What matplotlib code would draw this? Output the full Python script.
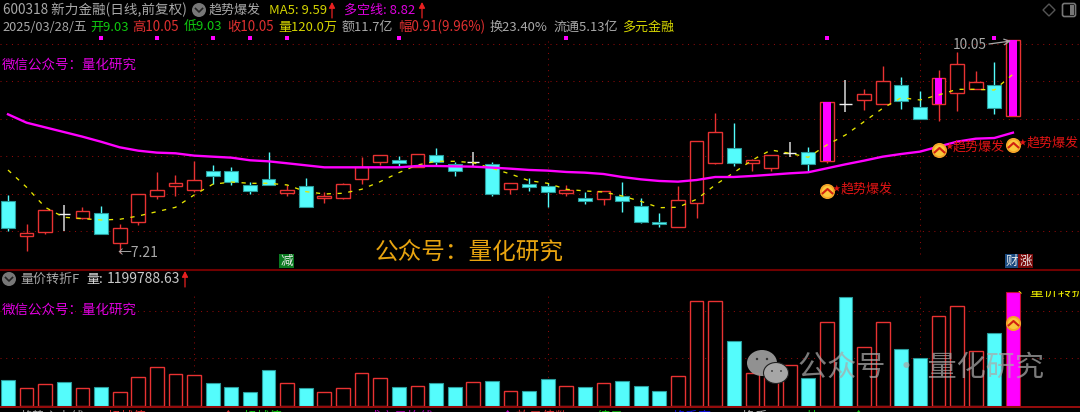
import matplotlib
matplotlib.use('Agg')
import matplotlib.pyplot as plt
from matplotlib.patches import Ellipse, Rectangle, Polygon, FancyBboxPatch
from matplotlib.path import Path
from matplotlib.transforms import Bbox

plt.rcParams['font.family'] = ['Noto Sans CJK SC', 'DejaVu Sans']

# 日K数据
opens = [7.905, 7.438, 7.491, 7.74, 7.674, 7.74, 7.345, 7.625, 7.967, 8.1, 8.051, 8.305, 8.305, 8.109, 8.198,
         8.011, 8.096, 7.936, 7.936, 8.189, 8.425, 8.447, 8.358, 8.509, 8.389, 8.41, 8.389, 8.056, 8.127, 8.096,
         8.002, 7.936, 7.923, 7.967, 7.829, 7.62, 7.554, 7.869, 8.411, 8.602, 8.403, 8.336, 8.53, 8.549, 8.438,
         9.21, 9.242, 9.193, 9.442, 9.149, 9.193, 9.344, 9.398, 9.442, 9.03]
closes = [7.536, 7.473, 7.78, 7.73, 7.767, 7.46, 7.536, 7.989, 8.047, 8.136, 8.18, 8.234, 8.149, 8.038, 8.118,
          8.047, 7.816, 7.967, 8.122, 8.35, 8.509, 8.411, 8.523, 8.425, 8.305, 8.42, 7.994, 8.136, 8.083, 8.025,
          8.047, 7.905, 8.034, 7.905, 7.625, 7.594, 7.918, 8.696, 8.816, 8.411, 8.447, 8.509, 8.54, 8.394, 9.224,
          9.2, 9.322, 9.496, 9.238, 8.993, 9.544, 9.722, 9.487, 9.144, 10.05]
highs = [7.98, 7.594, 7.78, 7.847, 7.816, 7.834, 7.594, 7.989, 8.287, 8.243, 8.438, 8.376, 8.349, 8.153, 8.554,
         8.114, 8.202, 8.02, 8.145, 8.483, 8.509, 8.5, 8.523, 8.602, 8.425, 8.553, 8.42, 8.136, 8.202, 8.136,
         8.114, 8.025, 8.034, 8.158, 7.936, 7.736, 8.1, 8.696, 9.069, 8.936, 8.456, 8.509, 8.687, 8.616, 9.224,
         9.513, 9.398, 9.7, 9.549, 9.371, 9.647, 9.891, 9.638, 9.753, 10.05]
lows = [7.505, 7.238, 7.46, 7.505, 7.656, 7.46, 7.21, 7.58, 7.931, 7.967, 8.025, 8.127, 8.114, 7.994, 8.109,
        7.967, 7.816, 7.878, 7.927, 8.127, 8.38, 8.367, 8.349, 8.38, 8.234, 8.358, 7.967, 8.0, 8.038, 7.816,
        7.967, 7.86, 7.847, 7.758, 7.611, 7.549, 7.554, 7.669, 8.4, 8.367, 8.305, 8.305, 8.483, 8.305, 8.411,
        9.091, 9.113, 9.193, 9.127, 8.993, 8.971, 9.1, 9.398, 9.06, 9.03]
ma5 = [8.313, 8.083, 7.816, 7.683, 7.665, 7.647, 7.656, 7.70, 7.758, 7.816, 7.98, 8.123, 8.153, 8.136, 8.136,
       8.114, 8.025, 7.994, 8.003, 8.056, 8.158, 8.278, 8.38, 8.429, 8.429, 8.411, 8.336, 8.26, 8.171, 8.136,
       8.056, 8.034, 8.02, 7.967, 7.896, 7.811, 7.816, 7.923, 8.114, 8.278, 8.447, 8.58, 8.536, 8.483, 8.647,
       8.78, 8.958, 9.136, 9.278, 9.247, 9.313, 9.389, 9.389, 9.38, 9.59]
duokong = [9.056, 8.944, 8.882, 8.82, 8.758, 8.69, 8.616, 8.571, 8.545, 8.536, 8.505, 8.491, 8.478, 8.443, 8.429,
           8.403, 8.376, 8.349, 8.349, 8.349, 8.349, 8.349, 8.367, 8.367, 8.362, 8.358, 8.345, 8.331, 8.314, 8.305,
           8.287, 8.278, 8.26, 8.22, 8.189, 8.167, 8.158, 8.18, 8.22, 8.22, 8.234, 8.251, 8.269, 8.283, 8.336,
           8.389, 8.438, 8.491, 8.527, 8.558, 8.625, 8.691, 8.731, 8.74, 8.811]
volume = [273, 185, 234, 252, 185, 203, 150, 301, 406, 336, 325, 238, 203, 143, 374, 245, 185, 150, 185, 350,
          290, 199, 206, 238, 199, 255, 259, 161, 154, 280, 206, 199, 245, 259, 210, 154, 311, 1106, 1106, 679,
          346, 301, 430, 290, 885, 1141, 616, 885, 595, 500, 941, 1046, 581, 770, 1199.8]

purple_bars = [44, 50, 54]
top_marks = [5, 8, 11, 13, 15, 21, 30, 44, 53]
signal_bars = [44, 50, 54]
signal_prices = [8.037, 8.584, 8.647]
price_grid = [10, 9.5, 9, 8.5, 8, 7.5]
vol_grid = [500, 1000]
vgrid_bars = [10, 29, 49]

BLACK = '#000000'
RED = '#e83232'
CYAN = '#54fcfc'
TEAL = '#2a9c9c'
MAGENTA = '#ff00ff'
GRID = '#8c0a0a'
W, H = 1080, 412
n = len(opens)
xlim = (-8 / 18.61, (W - 8) / 18.61)
xs = range(n)


def pane(y_top, y_bot):
    ax = fig.add_axes([0, 1 - y_bot / H, 1, (y_bot - y_top) / H])
    ax.set_facecolor(BLACK)
    ax.set_xlim(*xlim)
    ax.axis('off')
    return ax


fig = plt.figure(figsize=(W / 100, H / 100), dpi=100, facecolor=BLACK)

# 主图
ax = pane(30, 268)
ax.set_ylim(10 - (268 - 43.5) / 75, 10 + 13.5 / 75)
for p in price_grid:
    ax.axhline(p, color=GRID, lw=0.75, ls=(0, (1, 4.5)), zorder=1)
ax.vlines(vgrid_bars, 7.2, 10.05, color=GRID, lw=0.75, ls=(0, (1, 4.5)), zorder=1)

body_w = 0.74
for i in xs:
    o, c, h, l = opens[i], closes[i], highs[i], lows[i]
    top, bot = max(o, c), min(o, c)
    if abs(o - c) < 0.015:
        ax.vlines(i, l, h, color='#d8d8d8', lw=1.1, zorder=3)
        ax.hlines(c, i - 0.33, i + 0.33, color='#f0f0f0', lw=1.0, zorder=3)
    elif c > o:
        ax.vlines(i, top, h, color=RED, lw=1.0, zorder=2)
        ax.vlines(i, l, bot, color=RED, lw=1.0, zorder=2)
        ax.bar(i, top - bot, bottom=bot, width=body_w, facecolor=BLACK, edgecolor=RED, lw=1.0, zorder=3)
        if i in purple_bars:
            ax.bar(i, top - bot, bottom=bot, width=0.42, color=MAGENTA, lw=0, zorder=4)
    else:
        ax.vlines(i, l, h, color=CYAN, lw=1.0, zorder=2)
        ax.bar(i, top - bot, bottom=bot, width=body_w, facecolor=CYAN, edgecolor=TEAL, lw=0.8, zorder=3)

ax.plot(xs, ma5, color='#e6e600', lw=0.95, ls=(0, (3.2, 5)), zorder=5)
ax.plot(xs, duokong, color=MAGENTA, lw=1.7, zorder=6)
ax.scatter(top_marks, [10.07] * len(top_marks), s=7, marker='s', color=MAGENTA, lw=0, zorder=6)

chevron = Path([(-1, -0.45), (0, 0.45), (1, -0.45)], [Path.MOVETO, Path.LINETO, Path.LINETO])


def signal_icon(a, x, y):
    a.scatter([x], [y], s=118, color='#f4a428', lw=0, zorder=8)
    a.scatter([x], [y], s=66, color='#fbc83c', lw=0, zorder=8)
    a.plot([x], [y], marker=chevron, ms=8, mfc='none', mec='#d02010', mew=1.5, zorder=9)


for b, p in zip(signal_bars, signal_prices):
    signal_icon(ax, b, p)

# 量图
axv = pane(275, 406)
axv.set_ylim(0, 131 * 10.497)
for v in vol_grid:
    axv.axhline(v, color=GRID, lw=0.75, ls=(0, (1, 4.5)), zorder=1)
axv.vlines(vgrid_bars, 0, 1200, color=GRID, lw=0.75, ls=(0, (1, 4.5)), zorder=1)
for i in xs:
    if i == n - 1:
        axv.bar(i, volume[i], width=body_w, facecolor=MAGENTA, edgecolor='#c01030', lw=0.8, zorder=3)
    elif closes[i] > opens[i]:
        axv.bar(i, volume[i], width=body_w, facecolor=BLACK, edgecolor=RED, lw=1.0, zorder=3)
    else:
        axv.bar(i, volume[i], width=body_w, facecolor=CYAN, edgecolor=TEAL, lw=0.8, zorder=3)
signal_icon(axv, n - 1, 131 * 10.497 - (322.7 - 275) * 10.497)

# 文字层，坐标用像素
ov = fig.add_axes([0, 0, 1, 1], zorder=10)
ov.set_xlim(0, W)
ov.set_ylim(H, 0)
ov.axis('off')
ov.patch.set_alpha(0)


def txt(x, y, s, color, size=9.4, **kw):
    return ov.text(x, y, s, color=color, fontsize=size, ha='left', va='center', **kw)


def menu_icon(x, y):
    ov.add_patch(Ellipse((x, y), 14, 14, color='#777777', lw=0))
    ov.plot([x - 3.5, x, x + 3.5], [y - 1.5, y + 2, y - 1.5], color='#222222', lw=1.2)


def up_arrow(x, y):
    ov.annotate('', xy=(x, y - 8), xytext=(x, y + 8),
                arrowprops=dict(arrowstyle='-|>,head_width=0.18,head_length=0.35', color='#e82020', lw=0.9, shrinkA=0, shrinkB=0))


GRAY = '#a8a8a8'
RED_T = '#e03030'
GREEN = '#10c810'
YEL = '#d4d400'

ov.axhline(269.7, color='#700000', lw=1.5)
ov.axhline(407.2, color='#c01010', lw=1.1)

txt(3, 10, '600318 新力金融(日线,前复权)', GRAY, 9.8)
menu_icon(199, 10)
txt(209, 10, '趋势爆发', GRAY)
txt(269, 10, 'MA5: 9.59', YEL)
up_arrow(332, 10)
txt(344, 10, '多空线: 8.82', '#e000e0')
up_arrow(422, 10)

txt(2, 27, '2025/03/28/五', GRAY, 9.2)
txt(90, 27, '开9.03', GREEN)
txt(132, 27, '高10.05', RED_T, 9.6)
txt(184, 27, '低9.03', GREEN)
txt(227, 27, '收10.05', RED_T, 9.6)
txt(278, 27, '量120.0万', YEL)
txt(342, 27, '额11.7亿', GRAY)
txt(398, 27, '幅0.91(9.96%)', RED_T, 9.7)
txt(490, 27, '换23.40%', GRAY)
txt(553, 27, '流通5.13亿', GRAY)
txt(622, 27, '多元金融', YEL)

txt(2, 65, '微信公众号：量化研究', '#e000e0', 9.7)
txt(2, 310, '微信公众号：量化研究', '#e000e0', 9.7)
txt(375, 253, '公众号：量化研究', '#e8a410', 17)

txt(953, 45, '10.05', GRAY, 9.8)
ov.annotate('', xy=(1011, 41), xytext=(989, 44), arrowprops=dict(arrowstyle='->', color=GRAY, lw=0.9, shrinkA=0, shrinkB=0))
txt(118, 253, '←7.21', GRAY, 10)

for sx, lx, ly in [(833, 841, 189), (946, 953, 147), (1019, 1027, 143)]:
    txt(sx, ly, '★', '#e01414', 5.5)
    txt(lx, ly, '趋势爆发', '#e01414', 9.4)

# 公司事件小框
for bx, bw, col, ch in [(279, 15, '#0a7a20', '减'), (1005, 13, '#1a4a80', '财'), (1018, 15, '#7a0a0a', '涨')]:
    ov.add_patch(Rectangle((bx, 254), bw, 14, color=col, lw=0))
    ov.text(bx + bw / 2, 261, ch, color='#e8e8e8', fontsize=9, ha='center', va='center')

# 右上角图标
ov.add_patch(Polygon([(1049, 4), (1055, 10), (1049, 16), (1043, 10)], fill=False, ec='#555555', lw=1))
ov.add_patch(FancyBboxPatch((1064, 5), 10, 10, boxstyle='round,pad=1.5,rounding_size=2', fill=False, ec='#777777', lw=1.2))
ov.add_patch(Rectangle((1070, 5), 4, 10, color='#777777', lw=0))

# 副图标题
menu_icon(9, 279)
txt(20, 279, '量价转折F', GRAY)
txt(86, 279, '量:', '#d8d8d8')
txt(107, 279, '1199788.63', '#c8c8c8', 10)
up_arrow(185, 279)

t = txt(1017, 292, '←量价转折', '#ecec00', 10)
t.set_clip_box(Bbox([[1016, H - 300], [1080, H - 291]]))
t.set_clip_on(True)

# 最下面一行被截断的文字
for bx, col, s in [(20, GRAY, '趋势主力线'), (107, RED_T, '超越值: 2000000.00↑'), (243, GREEN, '超越值: 1000000.00'),
                   (368, '#c000c0', '成交量均线: 987367.00↑'), (516, RED_T, '放量倍数: 2.00'),
                   (597, GREEN, '缩量: 0.60'), (673, '#1010e0', '换手率'), (742, GRAY, '换手: 1.00'), (807, GREEN, '比: 0.60↑')]:
    txt(bx, 417, s, col, 9.4)

# 水印
ov.add_patch(Ellipse((762, 363), 30, 26, color='#9a9a9a', alpha=0.95, lw=0))
ov.add_patch(Ellipse((776, 373), 25, 21, color='#a6a6a6', ec='#202020', lw=0.8))
for ex, ey, er in [(757, 359, 2.4), (767, 359, 2.4), (772, 371, 1.8), (781, 371, 1.8)]:
    ov.add_patch(Ellipse((ex, ey), er, er, color='#333333', lw=0))
txt(798, 369, '公众号 · 量化研究', '#aaaaaa', 21, alpha=0.72)

fig.savefig('out.png', dpi=100, facecolor=BLACK)
